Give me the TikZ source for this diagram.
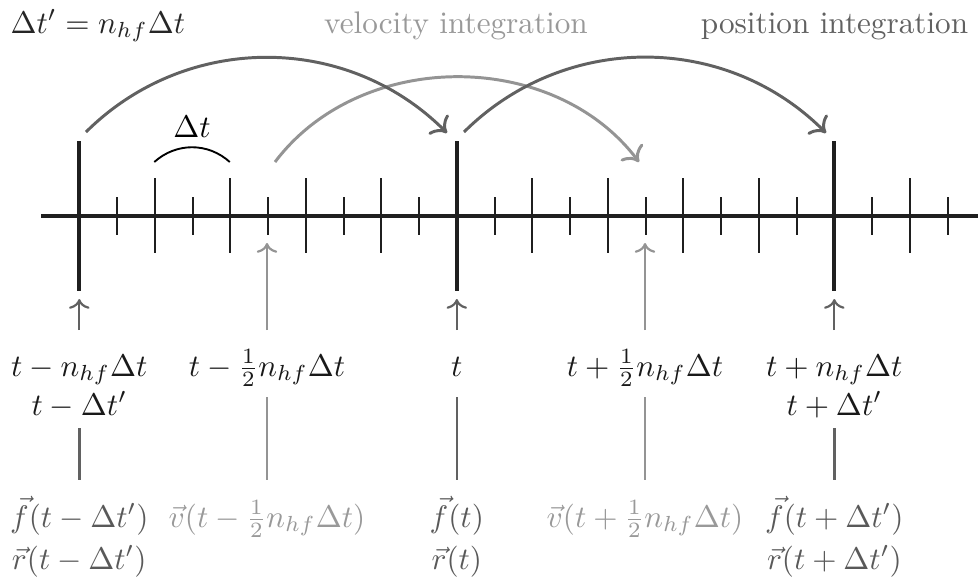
\documentclass[tikz,border=0pt]{standalone}
\usepackage{amsmath}
\usetikzlibrary{arrows.meta}
\definecolor{axisc}{gray}{0.12}
\definecolor{darkc}{gray}{0.38}
\definecolor{lightc}{gray}{0.58}
\definecolor{textdark}{gray}{0.35}
\definecolor{textlight}{gray}{0.6}
\begin{document}
\begin{tikzpicture}[x=0.3205pt,y=-0.3205pt,
  axisline/.style={axisc, line width=1.05pt},
  majortick/.style={axisc, line width=1.3pt},
  longtick/.style={axisc, line width=0.65pt},
  shorttick/.style={axisc, line width=0.65pt},
  darkarc/.style={darkc, line width=0.95pt, -{Computer Modern Rightarrow[scale=1.15]}},
  lightarc/.style={lightc, line width=0.95pt, -{Computer Modern Rightarrow[scale=1.15]}},
  bracket/.style={black, line width=0.6pt},
  lab/.style={inner sep=0pt, anchor=base, text=black!90},
  dklab/.style={inner sep=0pt, anchor=base, text=textdark},
  ltlab/.style={inner sep=0pt, anchor=base, text=textlight},
  darkup/.style={darkc, line width=0.7pt, ->},
  lightup/.style={lightc, line width=0.7pt, ->},
  darkdown/.style={darkc, line width=0.8pt},
  lightdown/.style={lightc, line width=0.8pt}
]
\useasboundingbox (0,0) rectangle (978,576);

% top texts
\node[inner sep=0pt, anchor=base west, text=black!85] (dtp) at (10,33) {$\Delta t' = n_{hf}\Delta t$};
\node[ltlab] (velint) at (456,33) {velocity integration};
\node[inner sep=0pt, anchor=base, text=darkc] (posint) at (834.5,33) {position integration};

% axis
\draw[axisline] (41,216) -- (978,216);
\foreach \i in {0,...,23} {
  \pgfmathsetmacro\xx{79.3+37.75*\i}
  \pgfmathtruncatemacro\mm{mod(\i,10)}
  \pgfmathtruncatemacro\ee{mod(\i,2)}
  \ifnum\mm=0
    \draw[majortick] (\xx,141) -- (\xx,291);
  \else\ifnum\ee=0
    \draw[longtick] (\xx,178) -- (\xx,253);
  \else
    \draw[shorttick] (\xx,197) -- (\xx,235);
  \fi\fi
}

% delta t bracket
\node[inner sep=0pt, anchor=base] (dtlab) at (192,137) {$\Delta t$};
\coordinate (brA) at (154.3,162);
\coordinate (brB) at (229.8,162);
\draw[bracket] (brA) to[bend left=42] (brB);

% arcs
\coordinate (a1s) at (86,132);
\coordinate (a1e) at (447,133);
\coordinate (a2s) at (464,132);
\coordinate (a2e) at (826,133);
\coordinate (v1s) at (275,162);
\coordinate (v1e) at (639,162);
\draw[lightarc] (v1s) to[bend left=53] (v1e);
\draw[darkarc] (a1s) to[bend left=45] (a1e);
\draw[darkarc] (a2s) to[bend left=45] (a2e);

% middle labels
\node[lab] (m0a) at (79.3,376) {$t - n_{hf}\Delta t$};
\node[lab] (m0b) at (79.3,415) {$t - \Delta t'$};
\node[lab] (m1) at (267,376) {$t - \frac{1}{2}n_{hf}\Delta t$};
\node[lab] (m2) at (456.8,376) {$t$};
\node[lab] (m3) at (645,376) {$t + \frac{1}{2}n_{hf}\Delta t$};
\node[lab] (m4a) at (834.3,376) {$t + n_{hf}\Delta t$};
\node[lab] (m4b) at (834.3,415) {$t + \Delta t'$};

% bottom labels
\node[dklab] (f0) at (79.3,527) {$\vec{f}(t - \Delta t')$};
\node[dklab] (r0) at (79.3,569) {$\vec{r}(t - \Delta t')$};
\node[ltlab] (v1) at (267,527) {$\vec{v}(t - \frac{1}{2}n_{hf}\Delta t)$};
\node[dklab] (f2) at (456.8,527) {$\vec{f}(t)$};
\node[dklab] (r2) at (456.8,569) {$\vec{r}(t)$};
\node[ltlab] (v3) at (645,527) {$\vec{v}(t + \frac{1}{2}n_{hf}\Delta t)$};
\node[dklab] (f4) at (834.3,527) {$\vec{f}(t + \Delta t')$};
\node[dklab] (r4) at (834.3,569) {$\vec{r}(t + \Delta t')$};

% connector end points
\coordinate (u0s) at (79.3,330);  \coordinate (u0e) at (79.3,299);
\coordinate (u1s) at (267,330);   \coordinate (u1e) at (267,243);
\coordinate (u2s) at (456.8,330); \coordinate (u2e) at (456.8,299);
\coordinate (u3s) at (645,330);   \coordinate (u3e) at (645,243);
\coordinate (u4s) at (834.3,330); \coordinate (u4e) at (834.3,299);

\coordinate (d0s) at (79.3,428);  \coordinate (d0e) at (79.3,480);
\coordinate (d1s) at (267,397);   \coordinate (d1e) at (267,480);
\coordinate (d2s) at (456.8,397); \coordinate (d2e) at (456.8,480);
\coordinate (d3s) at (645,397);   \coordinate (d3e) at (645,480);
\coordinate (d4s) at (834.3,428); \coordinate (d4e) at (834.3,480);

\draw[darkup] (u0s) -- (u0e);
\draw[lightup] (u1s) -- (u1e);
\draw[darkup] (u2s) -- (u2e);
\draw[lightup] (u3s) -- (u3e);
\draw[darkup] (u4s) -- (u4e);

\draw[darkdown] (d0s) -- (d0e);
\draw[lightdown] (d1s) -- (d1e);
\draw[darkdown] (d2s) -- (d2e);
\draw[lightdown] (d3s) -- (d3e);
\draw[darkdown] (d4s) -- (d4e);
\end{tikzpicture}
\end{document}
